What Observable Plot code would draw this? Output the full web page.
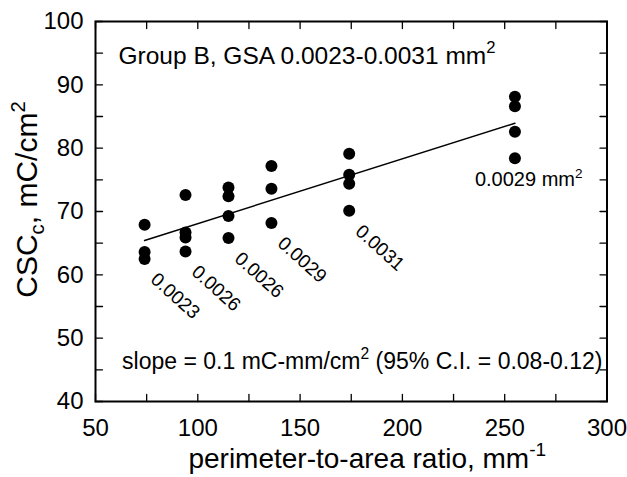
<!DOCTYPE html>
<html><head><meta charset="utf-8">
<script src="https://cdn.jsdelivr.net/npm/d3@7"></script>
<script src="https://cdn.jsdelivr.net/npm/@observablehq/plot@0.6"></script>
<style>
html,body{margin:0;padding:0;background:#fff;}
</style>
</head><body><div id="chart"></div>
<script>
// perimeter-to-area ratio (mm^-1) and CSCc (mC/cm^2) for each electrode
const ratio = [74,74,74, 94,94,94,94, 115,115,115,115, 136,136,136, 174,174,174,174, 255,255,255,255];
const csc   = [67.9,63.6,62.5, 72.6,66.7,65.9,63.7, 73.8,72.4,69.3,65.8, 77.2,73.6,68.2, 79.1,75.8,74.4,70.1, 88.1,86.6,82.6,78.4];
// GSA labels per column
const groupRatio = [74, 94, 115, 136, 174];
const groupArea  = ["0.0023", "0.0026", "0.0026", "0.0029", "0.0031"];
const lastRatio = [255];
const lastArea  = ["0.0029 mm^{2}"];
// axis ticks
const xTicks = [50, 100, 150, 200, 250, 300];
const xMinor = [50, 75, 100, 125, 150, 175, 200, 225, 250, 275, 300];
const yTicks = [40, 50, 60, 70, 80, 90, 100];
const yMinor = [40, 45, 50, 55, 60, 65, 70, 75, 80, 85, 90, 95, 100];
// texts
const xTitle = "perimeter-to-area ratio, mm^{-1}";
const yTitle = "CSC_{c}, mC/cm^{2}";
const groupNote = "Group B, GSA 0.0023-0.0031 mm^{2}";
const slopeNote = "slope = 0.1 mC-mm/cm^{2} (95% C.I. = 0.08-0.12)";

const font = '"Liberation Sans", Arial, Helvetica, sans-serif';
const points = ratio.map((x, i) => ({x, y: csc[i]}));
const lowest = groupRatio.map(r => d3.min(points.filter(p => p.x === r), p => p.y));
const lastLowest = lastRatio.map(r => d3.min(points.filter(p => p.x === r), p => p.y));
const tickShape = {draw(ctx, l) { ctx.moveTo(0, 0); ctx.lineTo(0, -l); }};
const tickOpts = {length: 7, anchor: "start", shape: tickShape, strokeWidth: 1.3, stroke: "#000"};

const plot = Plot.plot({
  width: 627, height: 477,
  marginLeft: 95, marginRight: 20.5, marginTop: 21, marginBottom: 76,
  x: {domain: [50, 300], axis: null},
  y: {domain: [40, 100], axis: null},
  style: {fontFamily: font, background: "#fff", color: "#000", overflow: "visible"},
  marks: [
    Plot.vector(xMinor, {x: d => d, frameAnchor: "bottom", rotate: 0, ...tickOpts}),
    Plot.vector(xMinor, {x: d => d, frameAnchor: "top", rotate: 180, ...tickOpts}),
    Plot.vector(yMinor, {y: d => d, frameAnchor: "left", rotate: 90, ...tickOpts}),
    Plot.vector(yMinor, {y: d => d, frameAnchor: "right", rotate: -90, ...tickOpts}),
    Plot.frame({stroke: "#000", strokeWidth: 2}),
    Plot.text(xTicks, {x: d => d, text: d => String(d), frameAnchor: "bottom", textAnchor: "middle", dy: 34, lineAnchor: "bottom", fontSize: 24, fill: "#000"}),
    Plot.text(yTicks, {y: d => d, text: d => String(d), frameAnchor: "left", textAnchor: "end", dx: -12, lineAnchor: "middle", fontSize: 24, fill: "#000"}),
    Plot.text([xTitle], {text: d => d, frameAnchor: "bottom", textAnchor: "middle", dx: 16, dy: 66, lineAnchor: "bottom", fontSize: 28, fill: "#000"}),
    Plot.text([yTitle], {text: d => d, frameAnchor: "left", textAnchor: "middle", rotate: -90, dx: -68, dy: -12, lineAnchor: "middle", fontSize: 30, fill: "#000"}),
    Plot.linearRegressionY(points, {x: "x", y: "y", ci: 0, stroke: "#000", strokeWidth: 1.5}),
    Plot.dot(points, {x: "x", y: "y", r: 6, fill: "#000"}),
    Plot.text(groupRatio, {x: d => d, y: (d, i) => lowest[i], text: (d, i) => groupArea[i], rotate: 42, textAnchor: "start", lineAnchor: "top", dx: 14, dy: 12, fontSize: 19, fill: "#000"}),
    Plot.text(lastRatio, {x: d => d, y: (d, i) => lastLowest[i], text: (d, i) => lastArea[i], textAnchor: "start", lineAnchor: "bottom", dx: -40, dy: 28, fontSize: 20, fill: "#000"}),
    Plot.text([groupNote], {text: d => d, frameAnchor: "top-left", textAnchor: "start", lineAnchor: "bottom", dx: 23, dy: 42, fontSize: 24.5, fill: "#000"}),
    Plot.text([slopeNote], {text: d => d, frameAnchor: "bottom-right", textAnchor: "end", lineAnchor: "bottom", dx: -4.5, dy: -33, fontSize: 23, fill: "#000"})
  ]
});
document.getElementById("chart").appendChild(plot);

// render ^{..} superscripts and _{..} subscripts as tspans
d3.select(plot).selectAll("text").each(function() {
  const t = this.textContent;
  if (!/[\^_]\{/.test(t)) return;
  const fs = parseFloat(getComputedStyle(this).fontSize) || 20;
  const re = /(\^|_)\{([^}]*)\}/g;
  const parts = [];
  let last = 0, m;
  while ((m = re.exec(t))) {
    if (m.index > last) parts.push({s: t.slice(last, m.index), k: "n"});
    parts.push({s: m[2], k: m[1] === "^" ? "sup" : "sub"});
    last = re.lastIndex;
  }
  if (last < t.length) parts.push({s: t.slice(last), k: "n"});
  this.textContent = "";
  let shift = 0;
  for (const p of parts) {
    const ts = document.createElementNS("http://www.w3.org/2000/svg", "tspan");
    let target = p.k === "sup" ? -0.42 * fs : p.k === "sub" ? 0.22 * fs : 0;
    const dy = target - shift;
    if (dy) ts.setAttribute("dy", dy);
    shift = target;
    if (p.k !== "n") ts.setAttribute("font-size", 0.68 * fs);
    ts.textContent = p.s;
    this.appendChild(ts);
  }
});
</script>
</body></html>
